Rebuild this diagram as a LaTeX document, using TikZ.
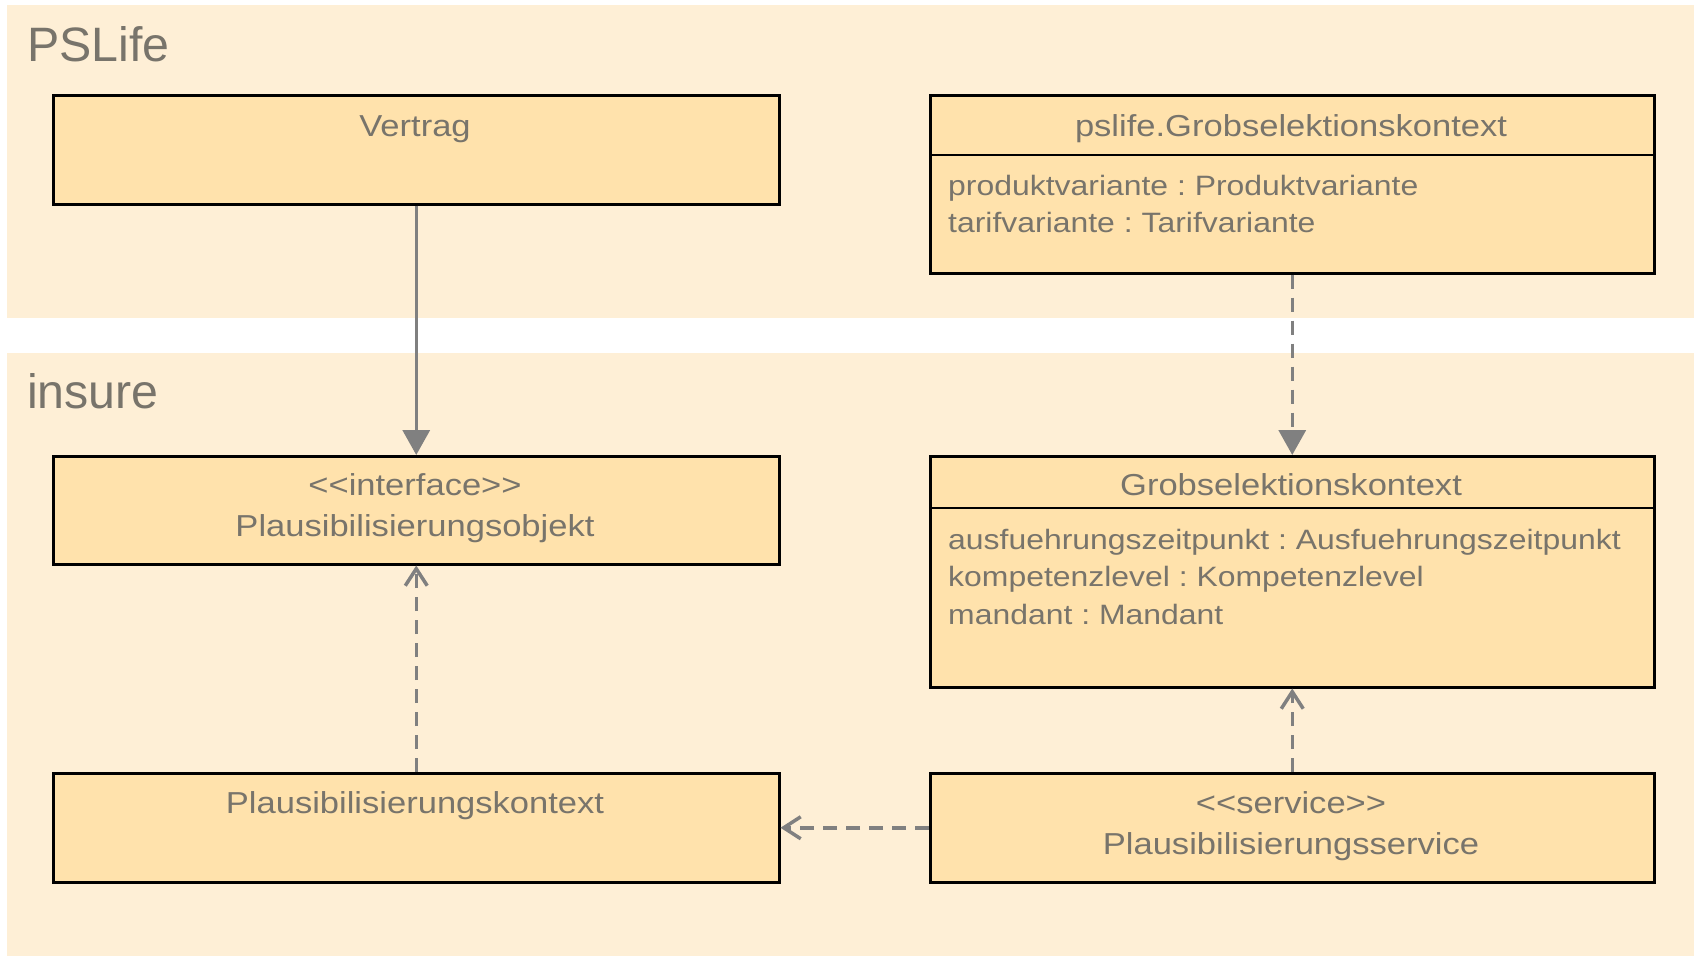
\documentclass[tikz,border=0pt]{standalone}
\usepackage{fontspec}
\setmainfont{Liberation Sans}
\newfontfamily\boxfont{Liberation Sans}[FakeStretch=1.14]
\usetikzlibrary{arrows.meta}
\definecolor{pkgfill}{RGB}{254,239,214}
\definecolor{boxfill}{RGB}{255,226,172}
\definecolor{txtgray}{RGB}{120,116,107}
\definecolor{arrgray}{RGB}{128,128,128}
\frenchspacing
\tikzset{
  pkg/.style={fill=pkgfill, draw=none},
  umlbox/.style={draw=black, fill=boxfill, line width=2.5pt, anchor=north west, inner sep=0pt},
  divider/.style={draw=black, line width=2.5pt},
  pkglabel/.style={anchor=base west, inner sep=0pt, text=txtgray, font=\fontsize{48.3}{52}\selectfont},
  ttl/.style={anchor=base, inner sep=0pt, text=txtgray, font=\boxfont\fontsize{30.3}{35}\selectfont},
  attr/.style={anchor=base west, inner sep=0pt, text=txtgray, font=\boxfont\fontsize{28.0}{33}\selectfont},
  assoc/.style={draw=arrgray, line width=3.5pt, -{Triangle[length=25pt,width=27pt]}},
  dep/.style={draw=arrgray, line width=3.5pt, dash pattern=on 14pt off 9pt, -{Triangle[length=25pt,width=27pt]}},
  realize/.style={draw=arrgray, line width=3.5pt, dash pattern=on 14pt off 9pt, -{Straight Barb[length=17pt,width=22pt,line width=3.5pt]}},
}
\begin{document}
\begin{tikzpicture}[x=1pt,y=-1pt]
\useasboundingbox (0,0) rectangle (1694,958);
\fill[white] (0,0) rectangle (1694,958);
% packages
\path[pkg] (7,5) rectangle (1694,318);
\path[pkg] (7,353) rectangle (1694,956);
\node[pkglabel] (lblpslife) at (27,62) {PSLife};
\node[pkglabel] (lblinsure) at (27,408.5) {insure};
% boxes
\node[umlbox, minimum width=726pt, minimum height=109pt] (vertrag) at (52,94) {};
\node[umlbox, minimum width=724pt, minimum height=178pt] (pgrob) at (929,94) {};
\node[umlbox, minimum width=726pt, minimum height=108pt] (pobj) at (52,455) {};
\node[umlbox, minimum width=724pt, minimum height=231pt] (grob) at (929,455) {};
\node[umlbox, minimum width=726pt, minimum height=109pt] (pkon) at (52,772) {};
\node[umlbox, minimum width=724pt, minimum height=109pt] (serv) at (929,772) {};
% dividers
\draw[divider] ([yshift=-61pt]pgrob.north west) -- ([yshift=-61pt]pgrob.north east);
\draw[divider] ([yshift=-53pt]grob.north west) -- ([yshift=-53pt]grob.north east);
% texts
\node[ttl] (tvertrag) at (415,136) {Vertrag};
\node[ttl] (tpgrob) at (1291,136) {pslife.Grobselektionskontext};
\node[attr] (a1) at (948,195) {produktvariante : Produktvariante};
\node[attr] (a2) at (948,232.3) {tarifvariante : Tarifvariante};
\node[ttl] (tpobj1) at (415,495.5) {<<interface>>};
\node[ttl] (tpobj2) at (415,536.5) {Plausibilisierungsobjekt};
\node[ttl] (tgrob) at (1291,495.5) {Grobselektionskontext};
\node[attr] (b1) at (948,549.3) {ausfuehrungszeitpunkt : Ausfuehrungszeitpunkt};
\node[attr] (b2) at (948,586.7) {kompetenzlevel : Kompetenzlevel};
\node[attr] (b3) at (948,624.3) {mandant : Mandant};
\node[ttl] (tpkon) at (415,813) {Plausibilisierungskontext};
\node[ttl] (tserv1) at (1291,813) {<<service>>};
\node[ttl] (tserv2) at (1291,854.5) {Plausibilisierungsservice};
% connectors
\draw[assoc] (vertrag.south) -- (pobj.north);
\draw[dep] (pgrob.south) -- (grob.north);
\draw[realize] (pkon.north) -- (pobj.south);
\draw[realize] (serv.north) -- (grob.south);
\draw[realize] (serv.west) -- (pkon.east);
\end{tikzpicture}
\end{document}
